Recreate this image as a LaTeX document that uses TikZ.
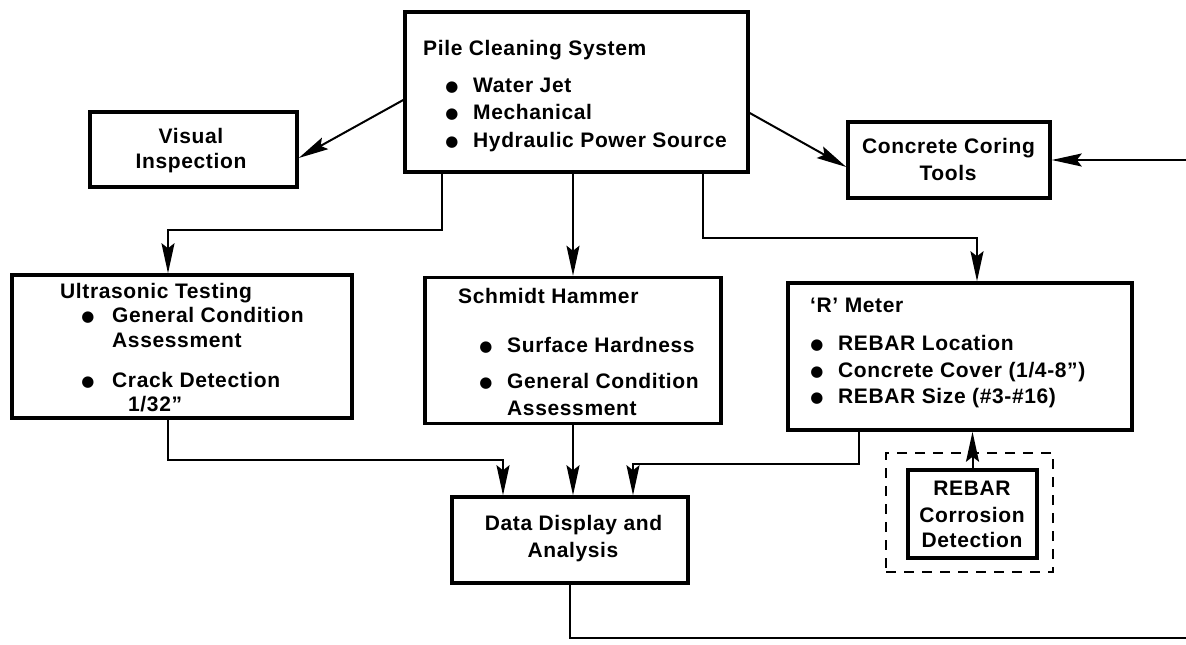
\documentclass[tikz,border=0pt]{standalone}
\usepackage{fontspec}
\setmainfont[LetterSpace=3]{Liberation Sans}
\newfontfamily\symfont{DejaVu Sans}
\usetikzlibrary{arrows.meta}
\begin{document}
\begin{tikzpicture}[x=1pt,y=-1pt,
  box/.style={draw, line width=3.5pt, rectangle, inner sep=0pt},
  dbox/.style={draw, dash pattern=on 10pt off 8pt, line width=2pt, rectangle, inner sep=0pt},
  arr/.style={line width=2pt, -{Stealth[length=30pt,width=13pt,inset=5pt]}},
  ln/.style={line width=2pt},
  txt/.style={anchor=base west, inner sep=0pt, font=\bfseries\fontsize{21}{25}\selectfont},
  ctxt/.style={anchor=base, inner sep=0pt, font=\bfseries\fontsize{21}{25}\selectfont},
  bul/.style={anchor=base, inner sep=0pt, yshift=1pt, font=\symfont\fontsize{15}{16}\selectfont}]
\useasboundingbox (0,0) rectangle (1186,645);

% boxes
\node[box, minimum width=343pt, minimum height=160pt] (pile) at (576.5,92) {};
\node[box, minimum width=207pt, minimum height=75pt] (visual) at (193.5,149.5) {};
\node[box, minimum width=202pt, minimum height=76pt] (coring) at (949,160) {};
\node[box, minimum width=340pt, minimum height=143pt] (ultra) at (182,346.5) {};
\node[box, minimum width=296pt, minimum height=146pt] (schmidt) at (573,350.5) {};
\node[box, minimum width=344pt, minimum height=147pt] (rmeter) at (960,356.5) {};
\node[box, minimum width=236pt, minimum height=86pt] (data) at (570,540) {};
\node[dbox, minimum width=167pt, minimum height=119pt] (dash) at (969.5,512.5) {};
\node[box, minimum width=129pt, minimum height=88pt] (corr) at (972.5,514) {};

% texts: pile cleaning system
\node[txt] (p0) at (423,55) {Pile Cleaning System};
\node[bul] (pb1) at (452,92) {●};
\node[txt] (p1) at (473,92) {Water Jet};
\node[bul] (pb2) at (452,119) {●};
\node[txt] (p2) at (473,119) {Mechanical};
\node[bul] (pb3) at (452,147) {●};
\node[txt] (p3) at (473,147) {Hydraulic Power Source};

% visual inspection
\node[ctxt] (v1) at (191,143) {Visual};
\node[ctxt] (v2) at (191,168) {Inspection};

% coring
\node[ctxt] (c1) at (948.5,153) {Concrete Coring};
\node[ctxt] (c2) at (948,180) {Tools};

% ultrasonic
\node[txt] (u0) at (60,298) {Ultrasonic Testing};
\node[bul] (ub1) at (88,322) {●};
\node[txt] (u1) at (112,322) {General Condition};
\node[txt] (u2) at (112,347) {Assessment};
\node[bul] (ub2) at (88,387) {●};
\node[txt] (u3) at (112,387) {Crack Detection};
\node[txt] (u4) at (128,411) {1/32''};

% schmidt
\node[txt] (s0) at (458,303) {Schmidt Hammer};
\node[bul] (sb1) at (486,352) {●};
\node[txt] (s1) at (507,352) {Surface Hardness};
\node[bul] (sb2) at (486,388) {●};
\node[txt] (s2) at (507,388) {General Condition};
\node[txt] (s3) at (507,415) {Assessment};

% R meter
\node[txt] (r0) at (810,312) {`R' Meter};
\node[bul] (rb1) at (817,350) {●};
\node[txt] (r1) at (838,350) {REBAR Location};
\node[bul] (rb2) at (817,377) {●};
\node[txt] (r2) at (838,377) {Concrete Cover (1/4-8'')};
\node[bul] (rb3) at (817,403) {●};
\node[txt] (r3) at (838,403) {REBAR Size (\#3-\#16)};

% corrosion
\node[ctxt] (k1) at (972,495) {REBAR};
\node[ctxt] (k2) at (972,522) {Corrosion};
\node[ctxt] (k3) at (972,547) {Detection};

% data display
\node[ctxt] (d1) at (573.5,530) {Data Display and};
\node[ctxt] (d2) at (573,557) {Analysis};

% connectors
\coordinate (inR) at (1186,160);
\coordinate (outR) at (1186,638);
\draw[arr] ([yshift=-8pt]pile.west) -- ([yshift=-8.5pt]visual.east);
\draw[arr] ([yshift=-21pt]pile.east) -- ([yshift=-7pt]coring.west);
\draw[arr] (inR) -- (coring.east);
\draw[arr] ([xshift=-134.5pt]pile.south) -- ++(0,56) -| ([xshift=-14pt]ultra.north);
\draw[arr] (pile.south -| schmidt.north) -- (schmidt.north);
\draw[arr] ([xshift=126.5pt]pile.south) -- ++(0,64) -| ([xshift=17pt]rmeter.north);
\draw[arr] (corr.north) -- (corr.north |- rmeter.south);
\draw[arr] ([xshift=-14pt]ultra.south) -- ++(0,40) -| ([xshift=-67pt]data.north);
\draw[arr] (schmidt.south) -- (schmidt.south |- data.north);
\draw[arr] ([xshift=-101pt]rmeter.south) -- ++(0,32) -| ([xshift=63pt]data.north);
\draw[ln] (data.south) -- (data.south |- outR) -- (outR);
\end{tikzpicture}
\end{document}
